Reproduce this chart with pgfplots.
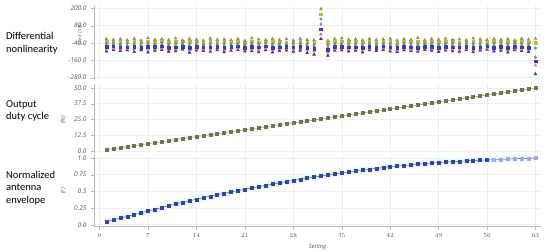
\documentclass[border=0pt]{standalone}
\usepackage{fontspec}
\setmainfont{Carlito}
\newfontfamily\tickfont{Open Sans}
\usepackage{pgfplots}
\usepackage{pgfplotstable}
\pgfplotsset{compat=1.18}

\definecolor{dOlive}{RGB}{150,150,60}
\definecolor{dYellow}{RGB}{195,180,70}
\definecolor{dTeal}{RGB}{80,160,135}
\definecolor{dGray}{RGB}{135,130,140}
\definecolor{dBlue}{RGB}{60,60,175}
\definecolor{dPink}{RGB}{215,120,170}
\definecolor{dNavy}{RGB}{80,50,140}
\definecolor{dutyC}{RGB}{112,114,82}
\definecolor{envC}{RGB}{58,64,160}
\definecolor{envBand}{RGB}{232,250,252}
\definecolor{tickC}{RGB}{85,85,85}

% DNL per setting, several measured units
\pgfplotstableread{
x a b c d e f g
1 -12 -30 -44 -58 -66 -84 -98
2 -18 -27 -40 -52 -62 -75 -88
3 -14 -33 -47 -55 -70 -80 -95
4 -20 -29 -42 -60 -68 -78 -90
5 -10 -25 -46 -54 -64 -82 -101
6 -22 -35 -43 -57 -72 -77 -89
7 -6 -28 -41 -53 -67 -85 -104
8 -17 -31 -48 -59 -65 -79 -92
9 -13 -26 -39 -51 -63 -76 -87
10 -19 -34 -45 -56 -71 -83 -99
11 -8 -30 -44 -58 -69 -81 -96
12 -21 -27 -42 -52 -66 -74 -86
13 -11 -32 -46 -61 -73 -88 -106
14 -16 -29 -40 -55 -64 -78 -91
15 -23 -36 -49 -57 -68 -80 -94
16 -9 -28 -43 -54 -70 -84 -100
17 -18 -33 -47 -60 -65 -77 -89
18 -14 -26 -41 -53 -72 -86 -103
19 -20 -31 -45 -58 -67 -79 -93
20 -12 -30 -44 -56 -62 -75 -88
21 -25 -37 -48 -59 -71 -82 -97
22 -7 -27 -40 -52 -66 -80 -95
23 -15 -34 -46 -55 -69 -85 -102
24 -19 -29 -42 -57 -63 -76 -90
25 -11 -32 -47 -61 -74 -87 -105
26 -17 -28 -43 -54 -68 -81 -94
27 -13 -35 -49 -58 -65 -78 -91
28 -22 -30 -41 -53 -70 -83 -99
29 -10 -26 -44 -56 -67 -79 -92
30 -18 -33 -46 -60 -72 -88 -108
31 -20 -38 -52 -66 -80 -98 -120
32 195 160 125 90 55 20 -12
33 -25 -40 -55 -70 -85 -105 -128
34 -12 -30 -44 -57 -66 -80 -93
35 -8 -27 -41 -53 -64 -77 -90
36 -16 -33 -47 -59 -70 -84 -97
37 -14 -29 -43 -55 -68 -79 -92
38 -21 -35 -48 -61 -73 -86 -104
39 -11 -28 -40 -52 -65 -78 -89
40 -19 -32 -45 -58 -71 -82 -95
41 -15 -26 -42 -54 -63 -75 -87
42 -9 -30 -46 -56 -69 -83 -98
43 -22 -34 -49 -60 -74 -88 -102
44 -13 -29 -41 -53 -66 -77 -90
45 -17 -27 -44 -57 -68 -80 -94
46 -5 -31 -47 -59 -72 -85 -100
47 -20 -36 -45 -55 -64 -76 -88
48 -12 -28 -40 -52 -67 -79 -92
49 -16 -33 -48 -61 -73 -86 -101
50 -10 -30 -43 -54 -65 -78 -91
51 -18 -26 -42 -56 -70 -82 -96
52 -14 -35 -46 -58 -69 -84 -99
53 -21 -29 -44 -57 -66 -77 -89
54 -8 -32 -41 -53 -71 -87 -103
55 -15 -27 -45 -60 -68 -80 -93
56 -19 -34 -49 -55 -63 -75 -86
57 -11 -30 -43 -59 -72 -84 -98
58 -17 -28 -40 -52 -64 -79 -92
59 -13 -33 -47 -61 -74 -88 -104
60 -22 -31 -42 -54 -67 -78 -90
61 -9 -26 -44 -56 -70 -82 -95
62 -16 -35 -48 -60 -73 -86 -101
63 -10 -40 -75 -140 -165 -195 -255
}\dnl

% duty cycle (%) and normalized envelope
\pgfplotstableread{
x duty env
1 0.8 0.045
2 1.6 0.072
3 2.4 0.099
4 3.2 0.125
5 4.0 0.152
6 4.8 0.178
7 5.6 0.205
8 6.4 0.231
9 7.2 0.257
10 8.0 0.283
11 8.8 0.308
12 9.6 0.333
13 10.4 0.358
14 11.2 0.382
15 12.0 0.405
16 12.8 0.427
17 13.5 0.449
18 14.3 0.470
19 15.1 0.491
20 15.9 0.511
21 16.7 0.531
22 17.5 0.551
23 18.3 0.570
24 19.1 0.589
25 19.9 0.608
26 20.7 0.627
27 21.5 0.645
28 22.3 0.663
29 23.0 0.680
30 23.8 0.697
31 24.6 0.714
32 25.4 0.730
33 26.2 0.746
34 27.0 0.762
35 27.8 0.777
36 28.6 0.791
37 29.4 0.805
38 30.2 0.818
39 31.0 0.831
40 31.8 0.844
41 32.5 0.856
42 33.3 0.867
43 34.1 0.878
44 34.9 0.888
45 35.7 0.898
46 36.5 0.907
47 37.3 0.916
48 38.1 0.924
49 38.9 0.932
50 39.7 0.939
51 40.5 0.945
52 41.3 0.951
53 42.1 0.957
54 42.8 0.962
55 43.6 0.967
56 44.4 0.971
57 45.2 0.975
58 46.0 0.979
59 46.8 0.983
60 47.6 0.987
61 48.4 0.991
62 49.2 0.995
63 50.0 0.999
}\curves

\pgfplotsset{
  panel/.style={
    scale only axis, width=447pt,
    xmin=-0.8, xmax=63.8,
    axis x line*=bottom, axis y line*=left,
    axis line style={gray!55,-},
    xtick={0,7,...,63},
    grid=major, grid style={gray!13},
    tick style={gray!55}, tick align=outside, major tick length=3pt,
    ticklabel style={font=\tickfont\itshape\fontsize{6.5}{7}\selectfont, text=tickC},
    label style={font=\tickfont\itshape\fontsize{5.8}{6.5}\selectfont, text=tickC},
    yticklabel style={xshift=-1pt},
  },
  nox/.style={xticklabels={}, x axis line style={draw=none}, xtick style={draw=none}},
}

\begin{document}
\begin{tikzpicture}
\useasboundingbox (0,0) rectangle (550pt,252pt);

% left row titles
\begin{scope}[every node/.style={anchor=base west, inner sep=0pt, font=\fontsize{10.5}{12}\selectfont}]
\node at (6pt,212pt) {Differential};
\node at (6pt,199pt) {nonlinearity};
\node at (6pt,144.5pt) {Output};
\node at (6pt,132pt) {duty cycle};
\node at (6pt,73.5pt) {Normalized};
\node at (6pt,61pt) {antenna};
\node at (6pt,48.5pt) {envelope};
\end{scope}

% DNL
\begin{axis}[panel, nox,
  at={(94pt,172.6pt)}, anchor=south west, height=73.3pt,
  ymin=-292, ymax=215,
  ytick={-280,-160,-40,80,200},
  yticklabels={-280.0,-160.0,-40.0,80.0,200.0},
  ylabel={(1e-3 LSB)},
  ylabel style={at={(axis description cs:-0.031,0.61)}, anchor=center,
    font=\tickfont\itshape\fontsize{4.6}{5}\selectfont},
]
\addplot[only marks, mark=square*, mark size=1.3pt, color=dYellow] table[x=x,y=b]{\dnl};
\addplot[only marks, mark=triangle*, mark size=1.7pt, color=dNavy] table[x=x,y=g]{\dnl};
\addplot[only marks, mark=*, mark size=1.3pt, color=dTeal] table[x=x,y=c]{\dnl};
\addplot[only marks, mark=diamond*, mark size=1.6pt, color=dGray] table[x=x,y=d]{\dnl};
\addplot[only marks, mark=triangle*, mark size=1.7pt, color=dPink] table[x=x,y=f]{\dnl};
\addplot[only marks, mark=square*, mark size=1.3pt, color=dBlue] table[x=x,y=e]{\dnl};
\addplot[only marks, mark=triangle*, mark size=1.7pt, color=dOlive] table[x=x,y=a]{\dnl};
\end{axis}

% duty cycle
\begin{axis}[panel, nox,
  at={(94pt,99.4pt)}, anchor=south west, height=68.4pt,
  ymin=-1.5, ymax=53,
  ytick={0,12.5,25,37.5,50},
  yticklabels={0.0,12.5,25.0,37.5,50.0},
  ylabel={(\%)},
  ylabel style={at={(axis description cs:-0.069,0.477)}, anchor=center},
]
\addplot[color=dutyC, line width=0.4pt, mark=square*, mark size=1.5pt] table[x=x,y=duty]{\curves};
\end{axis}

% normalized envelope
\begin{axis}[panel,
  at={(94pt,25.3pt)}, anchor=south west, height=71.4pt,
  ymin=-0.03, ymax=1.04,
  ytick={0,0.25,0.5,0.75,1},
  yticklabels={0.0,0.25,0.5,0.75,1.0},
  ylabel={(/)},
  ylabel style={at={(axis description cs:-0.069,0.5)}, anchor=center},
  xlabel={Setting},
]
\addplot[color=envBand, line width=7pt] table[x=x,y=env]{\curves};
\addplot[color=envC, line width=0.4pt, mark=square*, mark size=1.5pt] table[x=x,y=env]{\curves};
\addplot[only marks, color=envC!45, mark=square*, mark size=1.5pt, restrict x to domain=57:63] table[x=x,y=env]{\curves};
\end{axis}
\end{tikzpicture}
\end{document}
